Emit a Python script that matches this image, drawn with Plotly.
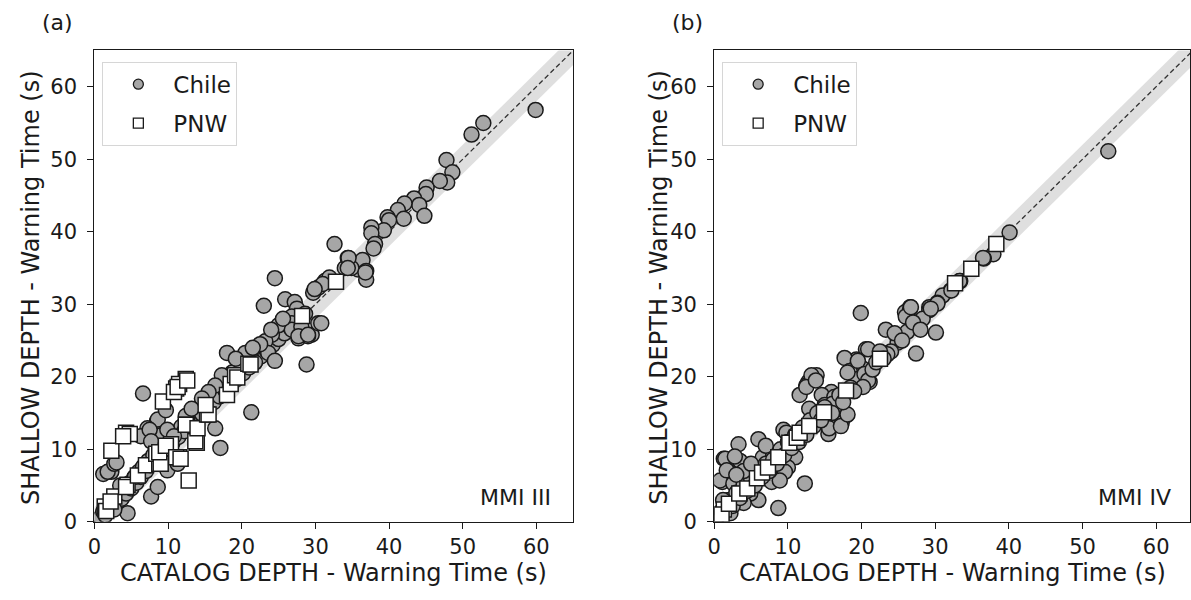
import plotly.graph_objects as go

# ---------------- data ----------------
# Panel (a) MMI III - Chile
a_chile_x = [0.8,1.2,1.5,1.9,2.3,2.6,3.0,3.3,3.7,4.0,4.5,4.3,4.7,5.0,5.4,5.7,6.0,6.3,6.6,7.0,7.3,7.6,8.0,8.3,8.7,9.0,9.4,9.8,
             10.2,10.6,11.0,11.4,11.8,12.2,12.6,13.0,13.4,13.8,14.2,14.6,15.0,15.4,15.8,16.2,16.6,17.0,17.4,17.8,18.2,18.6,19.0,19.4,19.8,
             20.2,20.6,21.0,21.4,21.8,22.2,22.6,23.0,23.4,23.8,24.2,24.6,25.0,25.4,25.8,26.2,26.6,
             24.5,23.0,25.9,27.2,27.5,28.6,26.8,27.7,28.3,29.5,27.7,29.0,28.1,30.4,26.8,28.8,21.3,17.1,6.6,18.0,21.2,30.8,30.4,29.7,31.3,31.9,
             31.0,29.9,34.0,35.8,36.4,34.4,36.9,36.9,34.9,32.6,34.5,34.4,36.8,
             59.9,52.8,51.2,47.8,48.6,47.9,46.9,45.1,45.0,43.4,44.1,42.1,41.2,44.8,42.0,39.8,40.0,39.3,37.6,37.6,38.1,37.9,
             25.0,24.1,23.2,26.8,28.1,27.7,29.0,23.6,24.5,21.8,20.5,19.6,18.7,17.3,16.4,15.5,14.6,22.5,20.0,19.2,25.6,24.0,21.5,
             16.4,9.3,2.3,1.2,8.5,1.8,2.7,8.6,7.2,6.3,9.7,7.5,3.0,9.9,7.7,
             2.7,7.7,8.6,9.9,11.3,3.5,5.5,10.8,12.4,13.2]
a_chile_y = [0.6,1.4,0.9,2.2,1.8,2.9,2.5,3.8,3.2,4.5,1.2,3.9,5.3,4.6,6.1,5.4,6.9,6.2,7.6,7.0,8.4,7.8,9.2,8.5,9.9,9.3,10.7,10.1,
             11.5,10.9,12.3,11.7,13.1,12.5,13.9,13.3,14.7,14.1,15.5,14.9,16.3,15.7,17.1,16.5,17.9,17.3,18.7,18.1,19.5,18.9,20.3,19.7,21.1,
             20.5,21.9,21.3,22.7,22.0,23.5,22.8,24.3,23.6,25.1,24.4,25.9,25.2,26.7,26.0,27.5,26.8,
             33.6,29.8,30.7,30.3,29.4,28.7,28.3,27.1,25.8,25.8,25.3,25.6,26.5,27.4,27.4,21.7,15.1,10.2,17.7,23.3,23.1,27.4,32.3,31.6,33.2,33.7,
             32.8,32.1,35.0,34.8,36.1,36.4,34.6,33.4,35.0,38.3,36.4,35.0,34.4,
             56.8,55.0,53.4,49.9,48.2,46.8,47.0,46.1,45.2,44.6,43.7,43.9,43.0,42.2,41.8,42.0,41.6,40.2,40.6,39.8,38.3,37.7,
             27.1,25.8,24.9,26.5,26.9,25.6,25.8,23.3,22.2,22.0,23.3,22.0,20.6,20.2,18.8,17.9,17.0,24.5,21.5,22.5,28.0,26.5,24.0,
             12.9,12.1,6.9,6.6,13.9,6.9,8.0,14.1,12.9,11.8,15.4,12.7,8.2,12.7,11.1,
             1.7,3.5,4.8,7.1,8.0,5.0,6.2,11.8,14.6,15.6]

# Panel (a) MMI III - PNW
a_pnw_x = [1.4,1.6,2.7,2.2,4.5,4.3,5.9,7.0,8.8,8.4,9.0,8.8,10.4,9.7,11.5,11.1,11.7,13.9,13.7,12.6,12.4,14.0,15.3,15.5,15.1,
           12.8,18.0,18.5,19.1,19.4,20.9,21.2,28.2,32.8,
           2.3,4.3,4.8,3.9,9.3,11.1,12.4,11.5,10.8,11.3,12.6]
a_pnw_y = [2.1,1.5,3.5,2.8,5.1,4.8,6.4,7.8,8.0,9.4,8.0,9.6,10.7,10.5,8.9,8.9,8.7,10.9,11.1,13.4,13.4,12.9,14.8,14.8,16.1,
           5.7,17.5,19.0,20.2,19.9,21.8,21.7,28.4,33.1,
           9.8,12.3,12.1,11.8,16.6,18.4,19.7,19.0,17.9,18.6,19.5]

# Panel (b) MMI IV - Chile
b_chile_x = [53.5,40.1,37.9,36.6,36.5,33.4,33.3,32.1,31.0,30.3,29.2,26.6,25.9,19.9,30.1,27.4,32.2,30.3,29.2,28.3,26.6,26.0,26.2,
             23.3,24.9,24.0,20.6,19.3,17.7,20.2,18.4,20.4,19.5,21.1,13.9,12.8,12.5,15.9,14.6,16.3,29.4,26.7,23.5,20.9,19.5,18.1,
             20.4,20.9,20.2,13.2,11.6,12.5,15.0,18.0,17.3,15.5,15.5,11.0,9.4,9.8,6.0,3.3,1.3,1.1,3.5,2.0,9.2,8.7,6.0,12.3,8.7,
             1.5,0.8,1.7,2.6,13.8,15.6,17.2,18.1,16.1,14.3,12.9,10.0,9.6,7.8,4.9,4.0,2.2,6.6,8.0,8.9,
             0.5,1.0,1.5,2.0,2.5,3.0,3.5,4.0,4.5,5.0,5.5,6.0,6.5,7.0,7.5,8.0,8.5,9.0,9.5,10.0,10.5,11.0,11.5,12.0,12.5,
             13.0,13.5,14.0,14.5,15.0,16.0,17.0,17.5,18.5,19.0,21.5,22.0,22.5,23.0,24.5,25.5,27.0,28.0,2.8,4.0,5.0,3.0,7.0,1.2]
b_chile_y = [51.1,39.9,36.9,36.3,36.4,33.2,33.2,31.9,31.2,30.2,29.6,29.6,28.9,28.8,26.1,23.2,31.9,30.1,29.2,28.0,29.4,28.3,26.2,
             26.5,24.7,23.5,23.8,22.4,22.6,21.1,20.8,19.7,19.7,19.3,20.2,19.3,18.8,17.9,17.5,17.2,29.4,29.6,23.1,23.8,22.2,20.6,
             20.4,19.5,18.6,20.2,17.5,18.6,16.1,14.7,13.6,12.9,12.1,8.9,12.7,12.3,11.4,10.7,8.7,5.5,8.4,6.9,9.4,6.4,3.0,5.3,1.9,
             8.7,5.7,7.1,5.3,19.5,12.9,13.2,14.8,16.3,14.5,15.6,7.5,6.9,5.5,3.9,2.6,1.2,8.9,9.1,5.7,
             0.8,1.5,2.4,3.0,2.2,4.0,3.3,5.2,4.3,6.0,5.0,7.0,6.2,8.0,7.0,8.6,8.0,10.0,9.2,11.0,10.2,12.0,11.0,13.0,12.0,
             14.0,13.2,15.0,14.0,15.8,15.0,17.5,16.5,18.5,18.0,21.0,22.0,23.5,22.5,26.0,25.0,27.5,26.5,9.0,7.0,8.0,6.5,10.5,3.0]

# Panel (b) MMI IV - PNW
b_pnw_x = [1.3,1.0,2.0,3.4,4.5,5.8,6.5,7.3,8.7,10.2,11.2,11.6,12.9,14.9,17.9,22.5,32.7,34.9,38.3]
b_pnw_y = [1.7,1.0,2.5,3.9,4.6,6.0,6.8,7.5,8.9,10.9,11.6,12.3,13.2,15.1,18.1,22.5,32.9,34.9,38.3]

panel_labels = ["(a)", "(b)"]
mmi_labels = ["MMI III", "MMI IV"]
series_names = ["Chile", "PNW"]
x_title = "CATALOG DEPTH - Warning Time (s)"
y_title = "SHALLOW DEPTH - Warning Time (s)"
tick_vals = [0, 10, 20, 30, 40, 50, 60]
axis_max = 65
band_half = 2.0

# ---------------- styling ----------------
W, H = 1191, 600
FONT = "DejaVu Sans"
FS_TICK = 21
FS_TITLE = 24
FS_LEG = 23
FS_TXT = 22
INK = "#1a1a1a"
CIRCLE_FILL = "#a6a6a6"

def px_x(p):
    return p / W

def px_y(p):
    return 1 - p / H

fig = go.Figure()

panels = [
    dict(xa="x", ya="y", chile=(a_chile_x, a_chile_y), pnw=(a_pnw_x, a_pnw_y), legend="legend"),
    dict(xa="x2", ya="y2", chile=(b_chile_x, b_chile_y), pnw=(b_pnw_x, b_pnw_y), legend="legend2"),
]

for p in panels:
    # 1:1 band
    fig.add_trace(go.Scatter(
        x=[0, axis_max, axis_max, 0], y=[-band_half, axis_max - band_half, axis_max + band_half, band_half],
        fill="toself", fillcolor="rgba(128,128,128,0.25)", line=dict(width=0),
        mode="lines", hoverinfo="skip", showlegend=False, xaxis=p["xa"], yaxis=p["ya"]))
    # 1:1 dashed line
    fig.add_trace(go.Scatter(
        x=[0, axis_max], y=[0, axis_max], mode="lines",
        line=dict(color="#333333", width=1.3, dash="5px,3px"),
        hoverinfo="skip", showlegend=False, xaxis=p["xa"], yaxis=p["ya"]))
    # Chile
    fig.add_trace(go.Scatter(
        x=p["chile"][0], y=p["chile"][1], mode="markers", name=series_names[0], showlegend=False,
        marker=dict(symbol="circle", size=15, color=CIRCLE_FILL, line=dict(color=INK, width=1.5)),
        xaxis=p["xa"], yaxis=p["ya"]))
    # PNW
    fig.add_trace(go.Scatter(
        x=p["pnw"][0], y=p["pnw"][1], mode="markers", name=series_names[1], showlegend=False,
        marker=dict(symbol="square", size=15, color="white", line=dict(color=INK, width=1.5)),
        xaxis=p["xa"], yaxis=p["ya"]))
    # legend entries (small symbols like the reference)
    fig.add_trace(go.Scatter(
        x=[None], y=[None], mode="markers", name=series_names[0], legend=p["legend"], legendgroup=p["legend"] + "c",
        marker=dict(symbol="circle", size=10, color=CIRCLE_FILL, line=dict(color=INK, width=1.3)),
        xaxis=p["xa"], yaxis=p["ya"]))
    fig.add_trace(go.Scatter(
        x=[None], y=[None], mode="markers", name=series_names[1], legend=p["legend"], legendgroup=p["legend"] + "p",
        marker=dict(symbol="square", size=10, color="white", line=dict(color=INK, width=1.3)),
        xaxis=p["xa"], yaxis=p["ya"]))

axis_common = dict(
    showgrid=False, zeroline=False, showline=True, linecolor=INK, linewidth=1.2, mirror=True,
    ticks="outside", ticklen=6, tickwidth=1.2, tickcolor=INK,
    tickvals=tick_vals, tickfont=dict(family=FONT, size=FS_TICK, color=INK),
)
x_extra = dict(ticklabelstandoff=0)
y_extra = dict(ticklabelstandoff=6)

y_top, y_bot = 51.5, 532.5
ax_a = (88, 570)
ax_b = (712, 1191)
b_range_max = axis_max * (ax_b[1] - ax_b[0]) / (ax_a[1] - ax_a[0])

legend_common = dict(
    bgcolor="rgba(255,255,255,0.8)", bordercolor="#d6d6d6", borderwidth=1,
    font=dict(family=FONT, size=FS_LEG, color=INK), xanchor="left", yanchor="top",
    tracegroupgap=6, itemwidth=60, traceorder="grouped",
)

fig.update_layout(
    width=W, height=H, margin=dict(l=0, r=0, t=0, b=0),
    paper_bgcolor="white", plot_bgcolor="white",
    font=dict(family=FONT, size=FS_TICK, color=INK),
    xaxis=dict(domain=[px_x(ax_a[0]), px_x(ax_a[1])], range=[0, axis_max], anchor="y", **axis_common, **x_extra),
    yaxis=dict(domain=[px_y(y_bot), px_y(y_top)], range=[0, axis_max], anchor="x", **axis_common, **y_extra),
    xaxis2=dict(domain=[px_x(ax_b[0]), 1.0], range=[0, b_range_max], anchor="y2", **axis_common, **x_extra),
    yaxis2=dict(domain=[px_y(y_bot), px_y(y_top)], range=[0, axis_max], anchor="x2", **axis_common, **y_extra),
    legend=dict(x=px_x(96), y=px_y(63), **legend_common),
    legend2=dict(x=px_x(720), y=px_y(63), **legend_common),
    showlegend=True,
)

ann = []
for i, (cx, ycx, lx, mx) in enumerate([(329, 24, 51, 550), (952, 657, 685, 1174)]):
    ann.append(dict(text=panel_labels[i], x=px_x(lx), y=px_y(23), xref="paper", yref="paper",
                    showarrow=False, xanchor="center", yanchor="middle", font=dict(family=FONT, size=FS_TXT, color=INK)))
    ann.append(dict(text=x_title, x=px_x(cx), y=0, xref="paper", yref="paper",
                    showarrow=False, xanchor="center", yanchor="bottom", borderpad=0,
                    font=dict(family=FONT, size=FS_TITLE, color=INK)))
    ann.append(dict(text=y_title, x=px_x(ycx), y=px_y((y_top + y_bot) / 2 + 2), xref="paper", yref="paper",
                    showarrow=False, textangle=-90, xanchor="center", yanchor="middle",
                    font=dict(family=FONT, size=FS_TITLE, color=INK)))
    ann.append(dict(text=mmi_labels[i], x=px_x(mx), y=px_y(508), xref="paper", yref="paper",
                    showarrow=False, xanchor="right", yanchor="middle", font=dict(family=FONT, size=FS_TXT, color=INK)))
fig.update_layout(annotations=ann)

fig.write_html("out.html")
